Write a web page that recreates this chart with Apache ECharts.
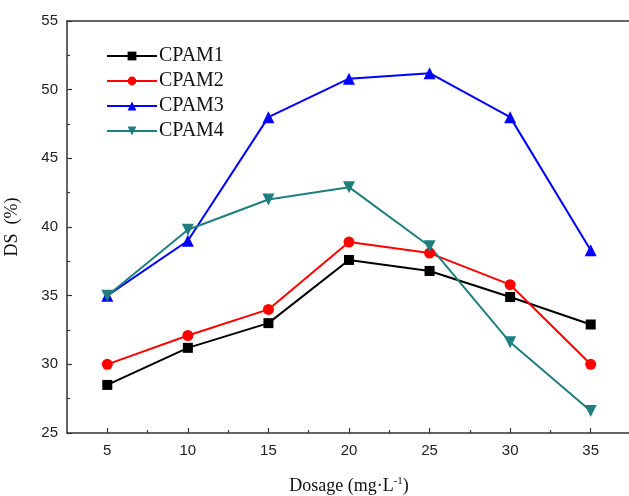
<!DOCTYPE html>
<html>
<head>
<meta charset="utf-8">
<script src="https://cdn.jsdelivr.net/npm/echarts@6/dist/echarts.min.js"></script>
<style>
  html, body { margin: 0; padding: 0; background: #fff; }
  #chart { width: 629px; height: 496px; }
</style>
</head>
<body>
<div id="chart"></div>
<script>
// dosage (mg/L)
var dosage = [5, 10, 15, 20, 25, 30, 35];
var cpam1 = [28.5, 31.2, 33.0, 37.6, 36.8, 34.9, 32.9];
var cpam2 = [30.0, 32.1, 34.0, 38.9, 38.1, 35.8, 30.0];
var cpam3 = [35.0, 39.0, 48.0, 50.8, 51.2, 48.0, 38.3];
var cpam4 = [35.0, 39.8, 42.0, 42.9, 38.6, 31.6, 26.6];
var names = ["CPAM1", "CPAM2", "CPAM3", "CPAM4"];
var xTicks = [5, 10, 15, 20, 25, 30, 35];
var xMinorTicks = [7.5, 12.5, 17.5, 22.5, 27.5, 32.5];

var colors = ["#000000", "#ff0000", "#0000ff", "#1f7f7f"];
var symbols = ["rect", "circle", "triangle", "path://M0,0 L10,0 L5,9 Z"];
var sizes = [10, 11, 12, 12];

function pairs(ys) {
  return dosage.map(function (x, i) { return [x, ys[i]]; });
}

var chart = echarts.init(document.getElementById("chart"));

var lineCol = "#333";

var option = {
  backgroundColor: "#fff",
  animation: false,
  color: colors,
  grid: { left: 67, top: 21, right: -2, bottom: 63, outerBoundsMode: "none", containLabel: false },
  legend: {
    left: 101,
    top: 41,
    orient: "vertical",
    itemWidth: 50,
    itemHeight: 11,
    itemGap: 5,
    textStyle: { fontFamily: "Liberation Serif", fontSize: 20, color: "#111", padding: [0, 0, 0, -3] },
    data: names
  },
  xAxis: [
    {
      type: "value",
      min: 2.5,
      max: 37.5,
      axisLine: { show: true, lineStyle: { color: lineCol, width: 1.5 } },
      axisTick: { inside: true, length: 5, customValues: xTicks, lineStyle: { color: lineCol, width: 1.2 } },
      axisLabel: { fontFamily: "Liberation Sans", fontSize: 15, color: "#222", margin: 10, customValues: xTicks },
      splitLine: { show: false },
      name: "{a|Dosage (mg·L}{s|-1}{a|)}",
      nameLocation: "middle",
      nameGap: 43,
      nameTextStyle: {
        rich: {
          a: { fontFamily: "Liberation Serif", fontSize: 18, color: "#111" },
          s: { fontFamily: "Liberation Serif", fontSize: 11, color: "#111", verticalAlign: "top", padding: [0, 0, 10, 0] }
        }
      }
    },
    {
      // minor ticks on the bottom axis
      type: "value", position: "bottom", min: 2.5, max: 37.5,
      axisLine: { show: false },
      axisTick: { inside: true, length: 3, customValues: xMinorTicks, lineStyle: { color: lineCol, width: 1.2 } },
      axisLabel: { show: false }, splitLine: { show: false }
    },
    {
      type: "value", position: "top", min: 2.5, max: 37.5,
      axisLine: { show: true, lineStyle: { color: lineCol, width: 1.5 } },
      axisTick: { show: false }, axisLabel: { show: false }, splitLine: { show: false }
    }
  ],
  yAxis: [
    {
      type: "value",
      min: 25,
      max: 55,
      interval: 5,
      axisLine: { show: true, lineStyle: { color: lineCol, width: 1.5 } },
      axisTick: { inside: true, length: 5, lineStyle: { color: lineCol, width: 1.2 } },
      minorTick: { show: true, splitNumber: 2, length: 3, lineStyle: { color: lineCol, width: 1.2 } },
      splitLine: { show: false },
      axisLabel: { fontFamily: "Liberation Sans", fontSize: 15, color: "#222", margin: 9 },
      name: "DS  (%)",
      nameLocation: "middle",
      nameGap: 46,
      nameTextStyle: { fontFamily: "Liberation Serif", fontSize: 18, color: "#111" }
    }
  ],
  series: [cpam1, cpam2, cpam3, cpam4].map(function (ys, i) {
    return {
      name: names[i],
      type: "line",
      data: pairs(ys),
      symbol: symbols[i],
      symbolSize: sizes[i],
      showAllSymbol: true,
      lineStyle: { width: 2, color: colors[i] },
      itemStyle: { color: colors[i] }
    };
  })
};

chart.setOption(option);
</script>
</body>
</html>
